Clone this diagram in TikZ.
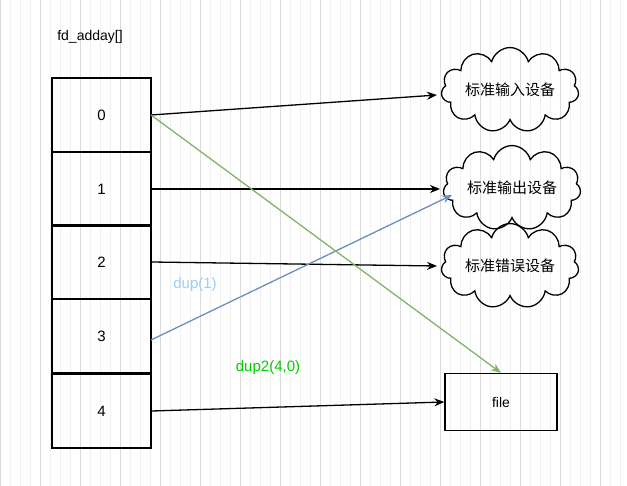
\documentclass[tikz,border=0pt]{standalone}
\usepackage{fontspec}
\setmainfont{Liberation Sans}
\newfontfamily\cjk{Noto Sans CJK SC}
\usetikzlibrary{shapes.symbols,arrows.meta}
\definecolor{linkblue}{HTML}{6C8EBF}
\definecolor{linkgreen}{HTML}{82B366}
\definecolor{textblue}{HTML}{99CCFF}
\definecolor{textgreen}{HTML}{00CC00}
\tikzset{
  slot/.style={draw,line width=1.3pt,minimum width=99pt,minimum height=74pt,inner sep=0pt,font=\fontsize{15}{18}\selectfont},
  dev/.style={cloud,draw,line width=1.3pt,cloud puffs=11,aspect=2.2,inner sep=1pt,minimum width=136pt,minimum height=62pt,font=\cjk\fontsize{15}{18}\selectfont},
  link/.style={line width=1.3pt,-{Stealth[length=10pt,width=8pt]}}
}
\begin{document}
\begin{tikzpicture}[x=1pt,y=-1pt]
    % Background grid
    \useasboundingbox (0,0) rectangle (627,486);
    \draw[black!6] (0,0) grid[step=10] (627,486);
    \draw[black!14] (0,0) grid[step=40] (627,486);

    % Array
    \node[font=\fontsize{14}{16}\selectfont] (title) at (90,37) {fd\_adday[]};
    \node[slot] (s0) at (101.5,115) {0};
    \node[slot] (s1) at (101.5,189) {1};
    \node[slot] (s2) at (101.5,262) {2};
    \node[slot] (s3) at (101.5,336) {3};
    \node[slot] (s4) at (101.5,411) {4};

    % Devices
    \node[dev] (in) at (510,90) {标准输入设备};
    \node[dev] (out) at (512,188) {标准输出设备};
    \node[dev] (err) at (510,266) {标准错误设备};
    \node[draw,line width=1.3pt,minimum width=112pt,minimum height=57pt,font=\fontsize{14}{16}\selectfont] (file) at (501,402) {file};

    % Links
    \coordinate (a0) at (151,115);
    \coordinate (a3) at (151,340);
    \draw[link] (a0) -- (437,95);
    \draw[link] (s1.east) -- (440,189);
    \draw[link] (s2.east) -- (437,266);
    \draw[link] (s4.east) -- (file.west);
    \draw[link,color=linkblue] (a3) -- (452,195);
    \draw[link,color=linkgreen] (a0) -- (file.north);

    % Labels
    \node[text=textblue,font=\fontsize{15}{18}\selectfont] (l1) at (195,285) {dup(1)};
    \node[text=textgreen,font=\fontsize{15}{18}\selectfont] (l2) at (268,368) {dup2(4,0)};
\end{tikzpicture}
\end{document}
